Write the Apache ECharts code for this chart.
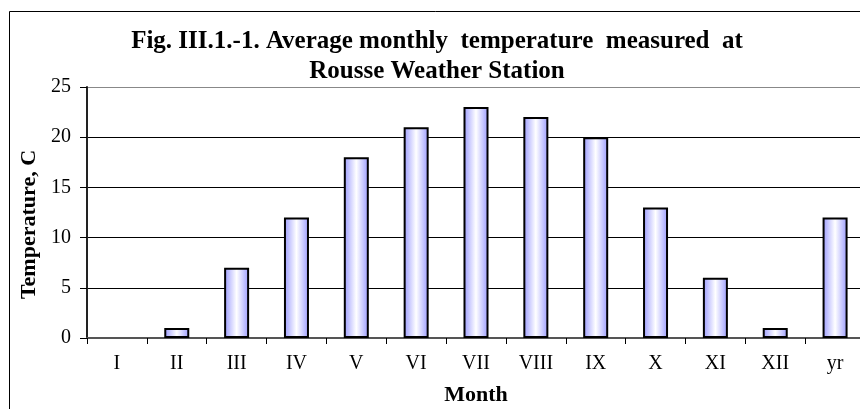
<!DOCTYPE html>
<html>
<head>
<meta charset="utf-8">
<title>Average monthly temperature, Rousse</title>
<script src="https://cdn.jsdelivr.net/npm/echarts@6/dist/echarts.min.js"></script>
<style>
  html, body { margin: 0; padding: 0; background: #fff; overflow: hidden; }
  #chart { width: 860px; height: 409px; }
</style>
</head>
<body>
<div id="chart"></div>
<script>
// data
const months = ["I", "II", "III", "IV", "V", "VI", "VII", "VIII", "IX", "X", "XI", "XII", "yr"];
const avgTemp = [0, 1, 7, 12, 18, 21, 23, 22, 20, 13, 6, 1, 12];
const titleLines = ["Fig. III.1.-1. Average monthly  temperature  measured  at", "Rousse Weather Station"];

const serif = "'Liberation Serif', 'DejaVu Serif', serif";

const chart = echarts.init(document.getElementById("chart"));

// a zero bar shows nothing in the original, so drop its outline
const barData = avgTemp.map(v => (v === 0 ? { value: v, itemStyle: { borderWidth: 0 } } : v));

const option = {
  animation: false,
  backgroundColor: "#fff",
  graphic: [
    {
      // outer frame of the chart area (cropped on right/bottom)
      type: "rect",
      shape: { x: 9.5, y: 11.5, width: 900, height: 500 },
      style: { fill: "none", stroke: "#000", lineWidth: 1 },
      silent: true,
    },
    {
      type: "text",
      x: 437,
      y: 27,
      style: {
        text: titleLines.join("\n"),
        font: "bold 25px " + serif,
        fill: "#000",
        align: "center",
        textAlign: "center",
        verticalAlign: "top",
        textVerticalAlign: "top",
        lineHeight: 30,
      },
    },
  ],
  grid: {
    left: 87,
    top: 87,
    right: -5,
    bottom: 71,
    outerBoundsMode: "none",
    show: false,
  },
  xAxis: {
    type: "category",
    data: months,
    name: "Month",
    nameLocation: "middle",
    nameGap: 46,
    nameTextStyle: { fontFamily: serif, fontWeight: "bold", fontSize: 22, color: "#000" },
    axisLine: { lineStyle: { color: "#555", width: 2 } },
    axisTick: { show: true, length: 6, lineStyle: { color: "#000" } },
    axisLabel: { fontFamily: serif, fontSize: 20, color: "#000", margin: 16 },
  },
  yAxis: {
    type: "value",
    min: 0,
    max: 25,
    interval: 5,
    name: "Temperature, C",
    nameLocation: "middle",
    nameGap: 44,
    nameTextStyle: {
      fontFamily: serif, fontWeight: "bold", fontSize: 22, color: "#000",
      padding: [0, 24, 0, 0],
    },
    axisLine: { show: true, lineStyle: { color: "#222", width: 2 } },
    axisTick: { show: true, length: 7, lineStyle: { color: "#000" } },
    axisLabel: { fontFamily: serif, fontSize: 20, color: "#000", margin: 16 },
    splitLine: {
      show: true,
      lineStyle: { color: ["#000", "#000", "#000", "#000", "#000", "#888"], width: 1 },
    },
  },
  series: [
    {
      type: "bar",
      data: barData,
      barWidth: 25,
      itemStyle: {
        color: new echarts.graphic.LinearGradient(0, 0, 1, 0, [
          { offset: 0, color: "#9a9aff" },
          { offset: 0.5, color: "#ffffff" },
          { offset: 1, color: "#9a9aff" },
        ]),
        borderColor: "#000",
        borderWidth: 2,
      },
    },
  ],
};

chart.setOption(option);
</script>
</body>
</html>
